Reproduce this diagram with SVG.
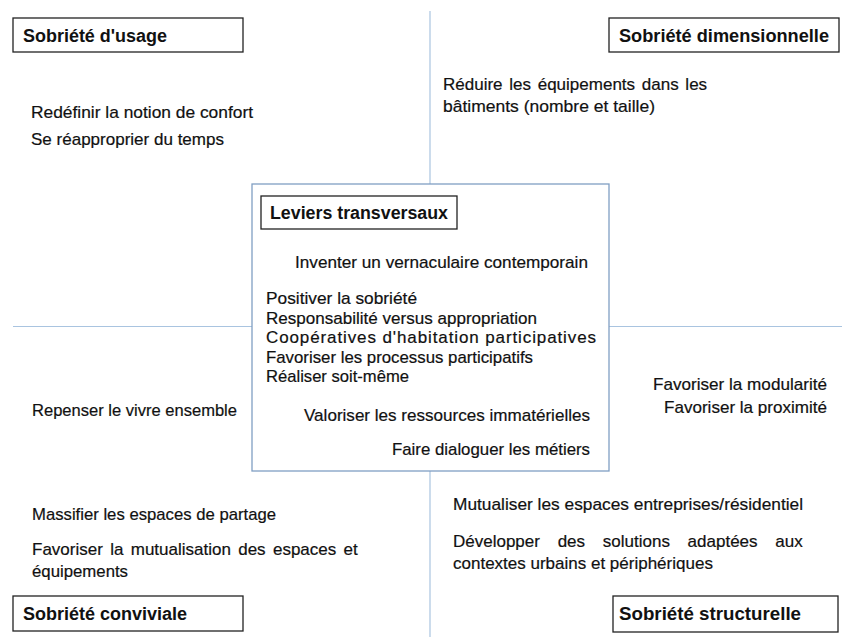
<svg xmlns="http://www.w3.org/2000/svg" width="842" height="637" viewBox="0 0 842 637">
<style>
.t{font-family:"Liberation Sans",Arial,sans-serif;font-size:17px;fill:#111;stroke:#111;stroke-width:0.2}
.h{font-family:"Liberation Sans",Arial,sans-serif;font-size:18px;font-weight:bold;fill:#111}
.hb{fill:#fff;stroke:#222;stroke-width:1.3}
.ax{stroke:#a9c4e0;stroke-width:1.2;fill:none}
</style>
<rect width="842" height="637" fill="#fff"/>
<g id="connectors">
<line class="ax" x1="430" y1="11" x2="430" y2="184"/>
<line class="ax" x1="430" y1="471" x2="430" y2="637"/>
<line class="ax" x1="13" y1="326.5" x2="252" y2="326.5"/>
<line class="ax" x1="609" y1="326.5" x2="842" y2="326.5"/>
</g>
<g id="usage">
<rect class="hb" x="13" y="18" width="230" height="34"/>
<text class="h" x="23" y="41.5" textLength="144" lengthAdjust="spacingAndGlyphs">Sobriété d'usage</text>
<text class="t" x="31" y="118" textLength="222" lengthAdjust="spacingAndGlyphs">Redéfinir la notion de confort</text>
<text class="t" x="31" y="145" textLength="193" lengthAdjust="spacingAndGlyphs">Se réapproprier du temps</text>
</g>
<g id="dimensionnelle">
<rect class="hb" x="609" y="18" width="230" height="34"/>
<text class="h" x="619" y="41.5" textLength="210" lengthAdjust="spacingAndGlyphs">Sobriété dimensionnelle</text>
<text class="t" x="443" y="90" word-spacing="2">Réduire les équipements dans les</text>
<text class="t" x="443" y="112" textLength="212" lengthAdjust="spacingAndGlyphs">bâtiments (nombre et taille)</text>
</g>
<g id="transversaux">
<rect x="252" y="184" width="357" height="287" fill="#fff" stroke="#809fc3" stroke-width="1.3"/>
<rect class="hb" x="261" y="196" width="196" height="33"/>
<text class="h" x="270" y="219" textLength="178" lengthAdjust="spacingAndGlyphs">Leviers transversaux</text>
<text class="t" x="295" y="268" textLength="293" lengthAdjust="spacingAndGlyphs">Inventer un vernaculaire contemporain</text>
<text class="t" x="266" y="304" textLength="151" lengthAdjust="spacingAndGlyphs">Positiver la sobriété</text>
<text class="t" x="266" y="323.5" textLength="271" lengthAdjust="spacingAndGlyphs">Responsabilité versus appropriation</text>
<text class="t" x="266" y="343" textLength="330" lengthAdjust="spacing">Coopératives d'habitation participatives</text>
<text class="t" x="266" y="362.5" textLength="267" lengthAdjust="spacingAndGlyphs">Favoriser les processus participatifs</text>
<text class="t" x="266" y="382" textLength="143" lengthAdjust="spacingAndGlyphs">Réaliser soit-même</text>
<text class="t" x="304" y="421" textLength="286" lengthAdjust="spacingAndGlyphs">Valoriser les ressources immatérielles</text>
<text class="t" x="392" y="455" textLength="198" lengthAdjust="spacingAndGlyphs">Faire dialoguer les métiers</text>
</g>
<g id="conviviale">
<text class="t" x="32" y="416" textLength="205" lengthAdjust="spacingAndGlyphs">Repenser  le vivre ensemble</text>
<text class="t" x="32" y="520" textLength="244" lengthAdjust="spacingAndGlyphs">Massifier les espaces de partage</text>
<text class="t" x="32" y="555" word-spacing="2.6">Favoriser la mutualisation des espaces et</text>
<text class="t" x="32" y="577" textLength="96" lengthAdjust="spacingAndGlyphs">équipements</text>
<rect class="hb" x="13" y="596" width="230" height="35"/>
<text class="h" x="23" y="620" textLength="164" lengthAdjust="spacingAndGlyphs">Sobriété conviviale</text>
</g>
<g id="structurelle">
<text class="t" x="653" y="390" textLength="174" lengthAdjust="spacingAndGlyphs">Favoriser la modularité</text>
<text class="t" x="664" y="413" textLength="163" lengthAdjust="spacingAndGlyphs">Favoriser la proximité</text>
<text class="t" x="453" y="510" textLength="350" lengthAdjust="spacingAndGlyphs">Mutualiser les espaces entreprises/résidentiel</text>
<text class="t" x="453" y="547" word-spacing="13">Développer des solutions adaptées aux</text>
<text class="t" x="453" y="569">contextes urbains et périphériques</text>
<rect class="hb" x="613" y="596" width="225" height="36"/>
<text class="h" x="619" y="620" textLength="182" lengthAdjust="spacingAndGlyphs">Sobriété structurelle</text>
</g>
</svg>
